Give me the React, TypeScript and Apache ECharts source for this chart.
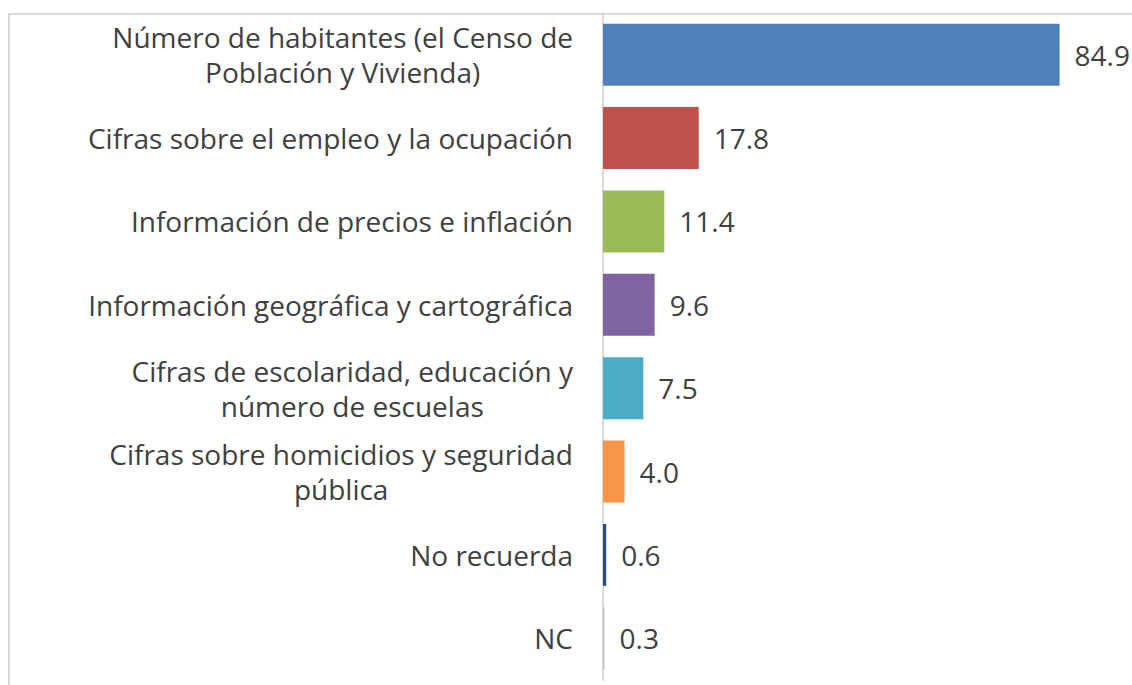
import React, { useEffect, useRef } from "react";
import * as echarts from "echarts";

const categories = [
  "Número de habitantes (el Censo de\nPoblación y Vivienda)",
  "Cifras sobre el empleo y la ocupación",
  "Información de precios e inflación",
  "Información geográfica y cartográfica",
  "Cifras de escolaridad, educación y\nnúmero de escuelas",
  "Cifras sobre homicidios y seguridad\npública",
  "No recuerda",
  "NC",
];
const values = [84.9, 17.8, 11.4, 9.6, 7.5, 4.0, 0.6, 0.3];
const colors = [
  "#4F81BD",
  "#C0504D",
  "#9BBB59",
  "#8064A2",
  "#4BACC6",
  "#F79646",
  "#2C4D75",
  "#C4C4C4",
];

export default function App() {
  const ref = useRef<HTMLDivElement>(null);
  useEffect(() => {
    if (!ref.current) return;
    const chart = echarts.init(ref.current, null, { renderer: "svg" });
    const font = "'Open Sans', 'Liberation Sans', sans-serif";
    chart.setOption({
      animation: false,
      backgroundColor: "#ffffff",
      graphic: [
        {
          type: "rect",
          shape: { x: 9, y: 14, width: 1200, height: 720 },
          style: { fill: "none", stroke: "#D9D9D9", lineWidth: 2 },
          silent: true,
        },
      ],
      grid: { left: 603, top: 13, width: 484, height: 667, containLabel: false },
      xAxis: {
        type: "value",
        min: 0,
        max: 90,
        show: false,
      },
      yAxis: {
        type: "category",
        inverse: true,
        data: categories,
        axisLine: { show: true, lineStyle: { color: "#D9D9D9", width: 2 } },
        axisTick: { show: false },
        axisLabel: {
          margin: 30,
          fontSize: 28,
          fontFamily: font,
          color: "#404040",
          lineHeight: 35,
          align: "right",
          formatter: (v: string) =>
            v
              .split("\n")
              .map((l) => "{c|" + l + "}")
              .join("\n"),
          rich: {
            c: {
              align: "center",
              fontSize: 28,
              fontFamily: font,
              color: "#404040",
              lineHeight: 35,
            },
          },
        },
      },
      series: [
        {
          type: "bar",
          barWidth: 62,
          data: values.map((v, i) => ({ value: v, itemStyle: { color: colors[i] } })),
          label: {
            show: true,
            position: "right",
            distance: 15,
            fontSize: 28,
            fontFamily: font,
            color: "#404040",
            formatter: (p: any) => Number(p.value).toFixed(1),
          },
        },
      ],
    });
    return () => chart.dispose();
  }, []);
  return (
    <div
      ref={ref}
      style={{ position: "absolute", left: 0, top: 0, width: 1132, height: 685, background: "#fff" }}
    />
  );
}
